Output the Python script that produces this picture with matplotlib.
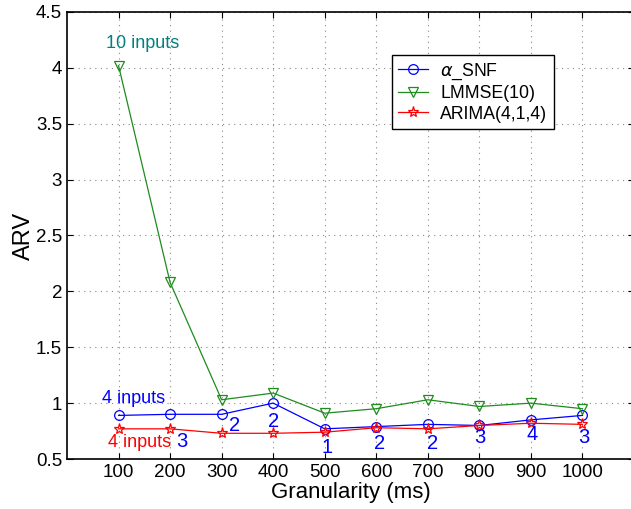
import matplotlib
matplotlib.use('Agg')
import matplotlib.pyplot as plt

plt.rcParams['font.family'] = ['Liberation Sans', 'DejaVu Sans']
plt.rcParams['mathtext.fontset'] = 'dejavusans'

# granularity (ms)
gran = [100, 200, 300, 400, 500, 600, 700, 800, 900, 1000]

# ARV values
snf = [0.89, 0.90, 0.90, 1.00, 0.77, 0.79, 0.81, 0.80, 0.85, 0.89]
lmmse = [4.02, 2.08, 1.03, 1.09, 0.91, 0.95, 1.03, 0.97, 1.00, 0.95]
arima = [0.77, 0.77, 0.73, 0.73, 0.74, 0.78, 0.77, 0.80, 0.82, 0.81]

# number of inputs picked for alpha_SNF at each granularity
inp_labels = ['3', '2', '2', '1', '2', '2', '3', '4', '3']
inp_x = [223, 325, 400, 505, 606, 709, 800, 903, 1002]
inp_y = [0.66, 0.80, 0.84, 0.60, 0.64, 0.64, 0.69, 0.72, 0.69]

fig = plt.figure(figsize=(6.31, 5.09), dpi=100)
ax = fig.add_axes([67/631, 1-459/509, (634-67)/631, (459-12)/509])

ax.plot(gran, snf, color='#0000ff', marker='o', mfc='none', ms=7, lw=0.9, mew=0.9,
        label=r'$\alpha$_SNF')
ax.plot(gran, lmmse, color='#1e8c1e', marker='v', mfc='none', ms=7.5, lw=0.9, mew=0.9,
        label='LMMSE(10)')
ax.plot(gran, arima, color='#ff0000', marker='*', mfc='none', ms=8, lw=0.9, mew=0.9,
        label='ARIMA(4,1,4)')

for s, x, y in zip(inp_labels, inp_x, inp_y):
    ax.text(x, y, s, color='#0000ff', fontsize=14.5, ha='center', va='center')
ax.text(130, 1.04, '4 inputs', color='#0000ff', fontsize=13, ha='center', va='center')
ax.text(141, 0.65, '4 inputs', color='#ff0000', fontsize=13, ha='center', va='center')
ax.text(147, 4.22, '10 inputs', color='#008080', fontsize=13, ha='center', va='center')

ax.set_xlim(0, 1100)
ax.set_ylim(0.5, 4.5)
ax.set_xticks(gran)
ax.set_yticks([0.5, 1, 1.5, 2, 2.5, 3, 3.5, 4, 4.5])
ax.set_yticklabels(['0.5', '1', '1.5', '2', '2.5', '3', '3.5', '4', '4.5'])
ax.tick_params(direction='in', top=True, right=True, labelsize=13.5, length=4)
ax.grid(True, linestyle=(0, (1, 4)), color='#888888', linewidth=0.8)
for sp in ax.spines.values():
    sp.set_linewidth(1.2)

ax.set_xlabel('Granularity (ms)', fontsize=16, labelpad=1)
ax.set_ylabel('ARV', fontsize=17, labelpad=1)

leg = ax.legend(loc='upper left', bbox_to_anchor=(391.7/631, 1-55/509),
                bbox_transform=fig.transFigure, fontsize=12.7, fancybox=False,
                edgecolor='black', framealpha=1, borderaxespad=0,
                handlelength=1.7, handletextpad=0.7, labelspacing=0.2,
                borderpad=0.35)
leg.get_frame().set_linewidth(1.0)

fig.savefig('out.png', dpi=100)
